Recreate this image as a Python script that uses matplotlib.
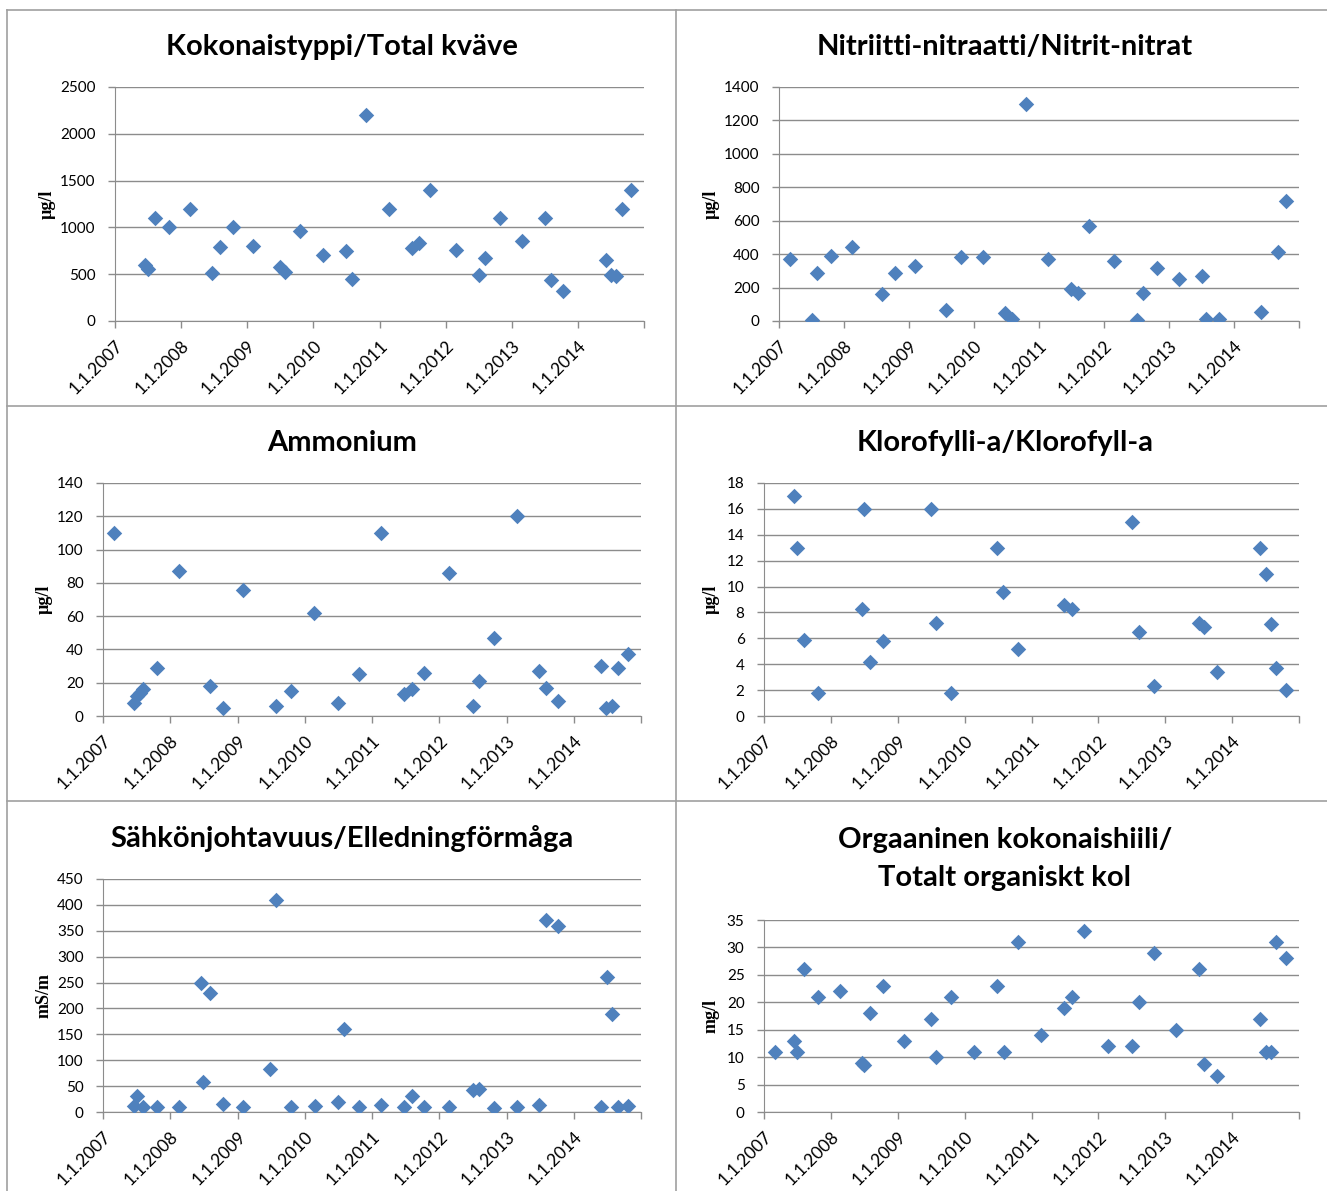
import matplotlib
matplotlib.use("Agg")
import matplotlib.pyplot as plt
from matplotlib.lines import Line2D

# Sampling dates as decimal years
tn_dates = [2007.46, 2007.50, 2007.60, 2007.81, 2008.13, 2008.46, 2008.59, 2008.78,
            2009.09, 2009.49, 2009.57, 2009.80, 2010.14, 2010.49, 2010.59, 2010.80,
            2011.14, 2011.49, 2011.60, 2011.77, 2012.15, 2012.50, 2012.60, 2012.82,
            2013.16, 2013.51, 2013.59, 2013.77, 2014.42, 2014.50, 2014.57, 2014.67, 2014.81]
tn_values = [600, 560, 1100, 1000, 1200, 510, 790, 1000,
             800, 580, 520, 960, 700, 750, 450, 2200,
             1200, 780, 830, 1400, 760, 490, 670, 1100,
             850, 1100, 440, 320, 650, 490, 480, 1200, 1400]

no_dates = [2007.17, 2007.50, 2007.59, 2007.80, 2008.12, 2008.59, 2008.78, 2009.09,
            2009.57, 2009.80, 2010.14, 2010.48, 2010.58, 2010.80, 2011.14, 2011.49,
            2011.60, 2011.77, 2012.16, 2012.50, 2012.60, 2012.82, 2013.15, 2013.50,
            2013.57, 2013.77, 2014.42, 2014.67, 2014.80]
no_values = [370, 5, 290, 390, 440, 160, 290, 330,
             65, 380, 380, 45, 10, 1300, 370, 190,
             170, 570, 360, 5, 170, 320, 250, 270,
             10, 10, 55, 410, 720]

nh4_dates = [2007.17, 2007.46, 2007.51, 2007.55, 2007.60, 2007.80, 2008.13, 2008.59,
             2008.78, 2009.08, 2009.57, 2009.80, 2010.14, 2010.49, 2010.80, 2011.14,
             2011.48, 2011.60, 2011.77, 2012.15, 2012.50, 2012.59, 2012.82, 2013.15,
             2013.49, 2013.58, 2013.77, 2014.41, 2014.48, 2014.57, 2014.66, 2014.80]
nh4_values = [110, 8, 12, 14, 16, 29, 87, 18,
              5, 76, 6, 15, 62, 8, 25, 110,
              13, 16, 26, 86, 6, 21, 47, 120,
              27, 17, 9, 30, 5, 6, 29, 37]

chl_dates = [2007.45, 2007.50, 2007.60, 2007.80, 2008.46, 2008.49, 2008.59, 2008.78,
             2009.49, 2009.57, 2009.80, 2010.49, 2010.58, 2010.80, 2011.48, 2011.60,
             2012.50, 2012.60, 2012.83, 2013.51, 2013.58, 2013.77, 2014.42, 2014.50,
             2014.58, 2014.66, 2014.80]
chl_values = [17, 13, 5.9, 1.8, 8.3, 16, 4.2, 5.8,
              16, 7.2, 1.8, 13, 9.6, 5.2, 8.6, 8.3,
              15, 6.5, 2.3, 7.2, 6.9, 3.4, 13, 11,
              7.1, 3.7, 2.0]

ec_dates = [2007.46, 2007.50, 2007.60, 2007.80, 2008.13, 2008.45, 2008.49, 2008.59,
            2008.78, 2009.08, 2009.49, 2009.57, 2009.80, 2010.15, 2010.49, 2010.58,
            2010.80, 2011.14, 2011.48, 2011.60, 2011.77, 2012.15, 2012.50, 2012.59,
            2012.82, 2013.15, 2013.49, 2013.58, 2013.77, 2014.41, 2014.49, 2014.57,
            2014.66, 2014.80]
ec_values = [12, 30, 10, 10, 10, 250, 57, 230,
             15, 10, 83, 410, 10, 11, 20, 160,
             10, 14, 9, 31, 9, 10, 43, 44,
             8, 9, 13, 370, 360, 9, 260, 190,
             10, 11]

toc_dates = [2007.17, 2007.45, 2007.50, 2007.60, 2007.80, 2008.13, 2008.46, 2008.49,
             2008.59, 2008.78, 2009.09, 2009.49, 2009.57, 2009.80, 2010.14, 2010.49,
             2010.59, 2010.80, 2011.14, 2011.49, 2011.60, 2011.78, 2012.15, 2012.50,
             2012.60, 2012.83, 2013.16, 2013.51, 2013.58, 2013.77, 2014.42, 2014.50,
             2014.58, 2014.66, 2014.80]
toc_values = [11, 13, 11, 26, 21, 22, 8.9, 8.6,
              18, 23, 13, 17, 10, 21, 11, 23,
              11, 31, 14, 19, 21, 33, 12, 12,
              20, 29, 15, 26, 8.7, 6.6, 17, 11,
              11, 31, 28]

year_ticks = list(range(2007, 2016))
year_labels = ["1.1.%d" % y for y in range(2007, 2015)] + [""]

W, H = 1327, 1191
fig = plt.figure(figsize=(W / 100, H / 100), dpi=100)

BLUE = "#4f81bd"
GRID = "#8c8c8c"
TICKFONT = "Lato"


def panel(box, dates, values, ymax, ystep, ylabel, title, title_xy, ylabel_x):
    left, right, top, bottom = box
    ax = fig.add_axes([left / W, 1 - bottom / H, (right - left) / W, (bottom - top) / H])
    ax.scatter(dates, values, marker="D", s=62, color=BLUE, zorder=3, linewidths=0)
    ax.set_xlim(2007, 2015)
    ax.set_ylim(0, ymax)
    ax.set_yticks(range(0, ymax + 1, ystep))
    ax.set_xticks(year_ticks)
    ax.set_xticklabels(year_labels, rotation=45, ha="right", rotation_mode="anchor",
                       fontsize=12.5, family=TICKFONT)
    for lab in ax.get_yticklabels():
        lab.set_family(TICKFONT)
        lab.set_fontsize(11)
    ax.yaxis.grid(True, color=GRID, linewidth=1)
    ax.set_axisbelow(True)
    for s in ["top", "right"]:
        ax.spines[s].set_visible(False)
    for s in ["left", "bottom"]:
        ax.spines[s].set_color(GRID)
    ax.tick_params(axis="both", color=GRID, length=5, width=1)
    ax.tick_params(axis="y", pad=9)
    ax.tick_params(axis="x", pad=7)
    ax.set_facecolor("none")
    fig.text(ylabel_x / W, 1 - (top + bottom) / 2 / H, ylabel, rotation=90,
             ha="center", va="center", family="Liberation Serif",
             weight="bold", fontsize=13)
    fig.text(title_xy[0] / W, 1 - title_xy[1] / H, title, ha="center", va="center",
             family="Lato", weight="bold", fontsize=21, linespacing=1.6)
    return ax


panel((115, 644, 87, 321), tn_dates, tn_values, 2500, 500, "µg/l",
      "Kokonaistyppi/Total kväve", (342, 47), 47)
panel((779, 1299, 87, 321), no_dates, no_values, 1400, 200, "µg/l",
      "Nitriitti-nitraatti/Nitrit-nitrat", (1005, 47), 711)
panel((103, 641, 483, 716), nh4_dates, nh4_values, 140, 20, "µg/l",
      "Ammonium", (342, 443), 44)
panel((764, 1299, 483, 716), chl_dates, chl_values, 18, 2, "µg/l",
      "Klorofylli-a/Klorofyll-a", (1005, 443), 711)
panel((103, 641, 879, 1112), ec_dates, ec_values, 450, 50, "mS/m",
      "Sähkönjohtavuus/Elledningförmåga", (342, 839), 44)
panel((764, 1299, 920, 1112), toc_dates, toc_values, 35, 5, "mg/l",
      "Orgaaninen kokonaishiili/\nTotalt organiskt kol", (1005, 859), 711)

# Panel frame lines
BORDER = "#a0a0a0"
for x in (7, 676):
    fig.add_artist(Line2D([x / W, x / W], [0, 1 - 10 / H], color=BORDER, lw=1.2))
for y in (10, 406, 801):
    fig.add_artist(Line2D([7 / W, 1], [1 - y / H, 1 - y / H], color=BORDER, lw=1.2))

fig.savefig("out.png", dpi=100)
